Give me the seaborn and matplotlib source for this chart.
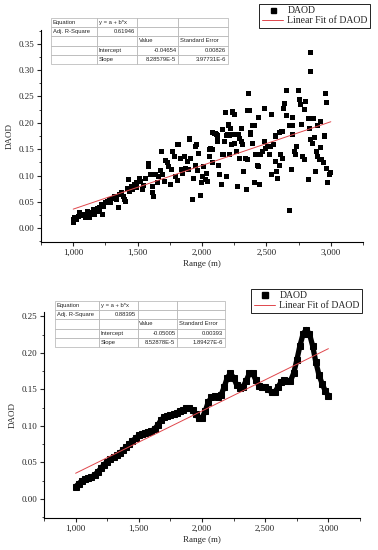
import numpy as np
import pandas as pd
import matplotlib
matplotlib.use('Agg')
import matplotlib.pyplot as plt
import seaborn as sns
from matplotlib.ticker import MultipleLocator, FuncFormatter

# ---- top panel: scattered DAOD vs range ----
scatter_range = [
    1000, 1005, 1013, 1026, 1039, 1052, 1064, 1083, 1098, 1108, 1119, 1129, 1142, 1155,
    1168, 1181, 1188, 1201, 1206, 1219, 1227, 1237, 1253, 1263, 1279, 1292, 1304, 1323,
    1335, 1348, 1361, 1374, 1387, 1400, 1408, 1421, 1426, 1439, 1452, 1464, 1477, 1490,
    1495, 1511, 1521, 1537, 1547, 1562, 1581, 1588, 1601, 1614, 1619, 1624, 1640, 1653,
    1666, 1679, 1686, 1697, 1710, 1717, 1730, 1743, 1753, 1761, 1774, 1787, 1795, 1808,
    1813, 1820, 1831, 1839, 1851, 1864, 1872, 1885, 1898, 1903, 1903, 1908, 1924, 1934,
    1947, 1950, 1955, 1968, 1975, 1986, 1993, 2006, 2014, 2027, 2037, 2045, 2058, 2058,
    2066, 2078, 2084, 2084, 2097, 2104, 2110, 2122, 2122, 2130, 2135, 2148, 2161, 2161,
    2166, 2177, 2182, 2187, 2187, 2200, 2205, 2207, 2213, 2213, 2225, 2226, 2238, 2239,
    2240, 2250, 2252, 2265, 2272, 2277, 2285, 2290, 2295, 2303, 2305, 2311, 2321, 2337,
    2342, 2350, 2355, 2360, 2370, 2380, 2380, 2393, 2393, 2406, 2409, 2419, 2432, 2440,
    2441, 2450, 2458, 2471, 2482, 2484, 2496, 2509, 2522, 2530, 2543, 2543, 2556, 2569,
    2574, 2579, 2589, 2600, 2600, 2612, 2620, 2625, 2627, 2630, 2643, 2656, 2656, 2677,
    2677, 2692, 2703, 2703, 2703, 2716, 2729, 2737, 2747, 2754, 2767, 2773, 2780, 2793,
    2793, 2805, 2824, 2827, 2832, 2845, 2845, 2845, 2858, 2868, 2871, 2878, 2889, 2894,
    2896, 2909, 2920, 2922, 2930, 2940, 2948, 2948, 2961, 2966, 2969, 2974, 2987, 2994,
]
scatter_daod = [
    0.016, 0.011, 0.021, 0.016, 0.023, 0.029, 0.024, 0.026, 0.020, 0.032, 0.024, 0.021, 0.029, 0.035,
    0.026, 0.032, 0.037, 0.040, 0.032, 0.045, 0.026, 0.042, 0.048, 0.051, 0.054, 0.049, 0.057, 0.061,
    0.054, 0.040, 0.064, 0.068, 0.061, 0.054, 0.051, 0.076, 0.092, 0.070, 0.079, 0.074, 0.083, 0.086,
    0.078, 0.095, 0.089, 0.073, 0.081, 0.095, 0.122, 0.117, 0.102, 0.079, 0.068, 0.061, 0.102, 0.086,
    0.098, 0.110, 0.146, 0.102, 0.089, 0.129, 0.124, 0.117, 0.083, 0.112, 0.146, 0.137, 0.098, 0.091,
    0.158, 0.158, 0.133, 0.111, 0.103, 0.136, 0.114, 0.127, 0.112, 0.171, 0.169, 0.133, 0.054, 0.095,
    0.120, 0.155, 0.158, 0.110, 0.141, 0.063, 0.086, 0.098, 0.117, 0.092, 0.103, 0.089, 0.136, 0.150,
    0.152, 0.125, 0.150, 0.181, 0.180, 0.179, 0.177, 0.165, 0.175, 0.120, 0.102, 0.083, 0.139, 0.187,
    0.139, 0.165, 0.219, 0.098, 0.176, 0.177, 0.195, 0.196, 0.139, 0.176, 0.190, 0.158, 0.220, 0.177,
    0.222, 0.215, 0.161, 0.146, 0.079, 0.178, 0.177, 0.170, 0.133, 0.165, 0.190, 0.158, 0.108, 0.133,
    0.073, 0.223, 0.130, 0.255, 0.223, 0.177, 0.181, 0.161, 0.194, 0.086, 0.194, 0.139, 0.120, 0.117,
    0.210, 0.083, 0.139, 0.146, 0.228, 0.165, 0.152, 0.156, 0.139, 0.156, 0.102, 0.216, 0.158, 0.127,
    0.175, 0.108, 0.095, 0.120, 0.181, 0.139, 0.183, 0.133, 0.183, 0.228, 0.237, 0.262, 0.213, 0.033,
    0.194, 0.111, 0.177, 0.194, 0.211, 0.146, 0.139, 0.155, 0.262, 0.244, 0.235, 0.197, 0.136, 0.130,
    0.225, 0.241, 0.208, 0.093, 0.190, 0.333, 0.297, 0.168, 0.160, 0.208, 0.173, 0.108, 0.146, 0.194,
    0.136, 0.130, 0.203, 0.154, 0.130, 0.125, 0.174, 0.175, 0.256, 0.114, 0.238, 0.086, 0.102, 0.105,
]
top_intercept, top_slope = -0.04654, 8.28579e-5
top_table = [
    ['Equation', 'y = a + b*x', '', ''],
    ['Adj. R-Square', '0.61946', '', ''],
    ['', '', 'Value', 'Standard Error'],
    ['', 'Intercept', '-0.04654', '0.00826'],
    ['', 'Slope', '8.28579E-5', '3.97731E-6'],
]

# ---- bottom panel: smoothed DAOD vs range ----
smooth_range = list(range(1000, 3001, 25))
smooth_daod = [
    0.017, 0.021, 0.025, 0.027, 0.029, 0.030, 0.033, 0.037, 0.042, 0.047,
    0.051, 0.055, 0.057, 0.060, 0.063, 0.067, 0.071, 0.075, 0.080, 0.083,
    0.087, 0.089, 0.091, 0.092, 0.093, 0.096, 0.101, 0.108, 0.112, 0.114,
    0.115, 0.116, 0.118, 0.120, 0.122, 0.124, 0.124, 0.122, 0.116, 0.111,
    0.111, 0.120, 0.133, 0.139, 0.141, 0.140, 0.142, 0.153, 0.166, 0.172,
    0.166, 0.156, 0.152, 0.154, 0.162, 0.172, 0.173, 0.163, 0.155, 0.153,
    0.153, 0.150, 0.146, 0.146, 0.153, 0.160, 0.163, 0.162, 0.162, 0.172,
    0.190, 0.210, 0.226, 0.232, 0.226, 0.210, 0.188, 0.170, 0.158, 0.148,
    0.141,
]
bot_intercept, bot_slope = -0.05005, 8.52878e-5
bot_table = [
    ['Equation', 'y = a + b*x', '', ''],
    ['Adj. R-Square', '0.88395', '', ''],
    ['', '', 'Value', 'Standard Error'],
    ['', 'Intercept', '-0.05005', '0.00393'],
    ['', 'Slope', '8.52878E-5', '1.89427E-6'],
]

fit_x = [1000, 3000]
FIT_COLOR = '#e0474c'

sns.set_style('ticks')
plt.rcParams['font.family'] = ['Liberation Serif', 'DejaVu Serif']
plt.rcParams['xtick.direction'] = 'out'
plt.rcParams['ytick.direction'] = 'out'

fig = plt.figure(figsize=(3.78, 5.5), dpi=100)
ax1 = fig.add_axes([41 / 378, 1 - 242 / 550, 322 / 378, 212 / 550])
ax2 = fig.add_axes([44 / 378, 1 - 518 / 550, 316 / 378, 206 / 550])


def style_axis(ax, ylim, ytop):
    ax.set_xlim(750, 3250)
    ax.set_ylim(*ylim)
    ax.xaxis.set_major_locator(MultipleLocator(500))
    ax.xaxis.set_minor_locator(MultipleLocator(250))
    ax.yaxis.set_major_locator(MultipleLocator(0.05))
    ax.yaxis.set_minor_locator(MultipleLocator(0.025))
    ax.xaxis.set_major_formatter(FuncFormatter(lambda v, p: f'{int(v):,}'))
    ax.yaxis.set_major_formatter(FuncFormatter(lambda v, p: f'{v:.2f}' if v <= ytop + 1e-9 else ''))
    ax.tick_params(which='major', length=3, width=0.8, labelsize=6.5, pad=2)
    ax.tick_params(which='minor', length=1.8, width=0.6)
    for s in ['left', 'bottom']:
        ax.spines[s].set_linewidth(0.8)
        ax.spines[s].set_color('black')
    sns.despine(ax=ax)
    ax.set_xlabel('Range (m)', fontsize=6.5, labelpad=2)
    ax.set_ylabel('DAOD', fontsize=6.5, labelpad=3)


def add_table(ax, rows, bbox):
    tb = ax.table(cellText=rows, bbox=bbox, colWidths=[0.26, 0.226, 0.232, 0.282])
    tb.auto_set_font_size(False)
    for (r, c), cell in tb.get_celld().items():
        cell.set_edgecolor('#b0b0b0')
        cell.set_linewidth(0.5)
        txt = cell.get_text()
        txt.set_fontsize(4.2)
        txt.set_fontfamily('Liberation Sans')
        num = txt.get_text()[:1] in '-0123456789'
        cell._loc = 'right' if num else 'left'
        txt.set_horizontalalignment('right' if num else 'left')
        cell.PAD = 0.04
    tb.set_clip_on(False)
    return tb


def add_legend(handles, labels, anchor):
    leg = fig.legend(handles, labels, loc='upper right', bbox_to_anchor=anchor,
                     fontsize=7, frameon=True, fancybox=False, edgecolor='black',
                     framealpha=1, borderpad=0.25, labelspacing=0.1, handlelength=2.2,
                     handletextpad=0.4, borderaxespad=0)
    leg.get_frame().set_linewidth(0.6)
    return leg


# top panel
df_top = pd.DataFrame({'Range': scatter_range, 'DAOD': scatter_daod})
sns.scatterplot(data=df_top, x='Range', y='DAOD', ax=ax1, marker='s', s=13,
                color='black', edgecolor='none', label='DAOD', zorder=3)
ax1.plot(fit_x, [top_intercept + top_slope * v for v in fit_x], color=FIT_COLOR,
         lw=0.7, label='Linear Fit of DAOD', zorder=4)
style_axis(ax1, (-0.026, 0.376), 0.35)
add_table(ax1, top_table, [10 / 322, (242 - 64) / 212, 177 / 322, 46 / 212])
h, l = ax1.get_legend_handles_labels()
ax1.get_legend().remove()
h[0] = plt.Line2D([], [], ls='none', marker='s', color='black', markersize=3.6)
add_legend(h, l, (370 / 378, 1 - 4 / 550))

# bottom panel
df_bot = pd.DataFrame({'Range': smooth_range, 'DAOD': smooth_daod})
sns.lineplot(data=df_bot, x='Range', y='DAOD', ax=ax2, color='black', lw=3.8,
             marker='s', markersize=5, markeredgecolor='black', label='DAOD', zorder=3)
ax2.plot(fit_x, [bot_intercept + bot_slope * v for v in fit_x], color=FIT_COLOR,
         lw=0.7, label='Linear Fit of DAOD', zorder=4)
style_axis(ax2, (-0.026, 0.256), 0.25)
add_table(ax2, bot_table, [11 / 316, (518 - 347) / 206, 170 / 316, 46 / 206])
h, l = ax2.get_legend_handles_labels()
ax2.get_legend().remove()
h[0] = plt.Line2D([], [], ls='none', marker='s', color='black', markersize=4.2)
add_legend(h, l, (362 / 378, 1 - 289 / 550))

fig.savefig('out.png', dpi=100)
